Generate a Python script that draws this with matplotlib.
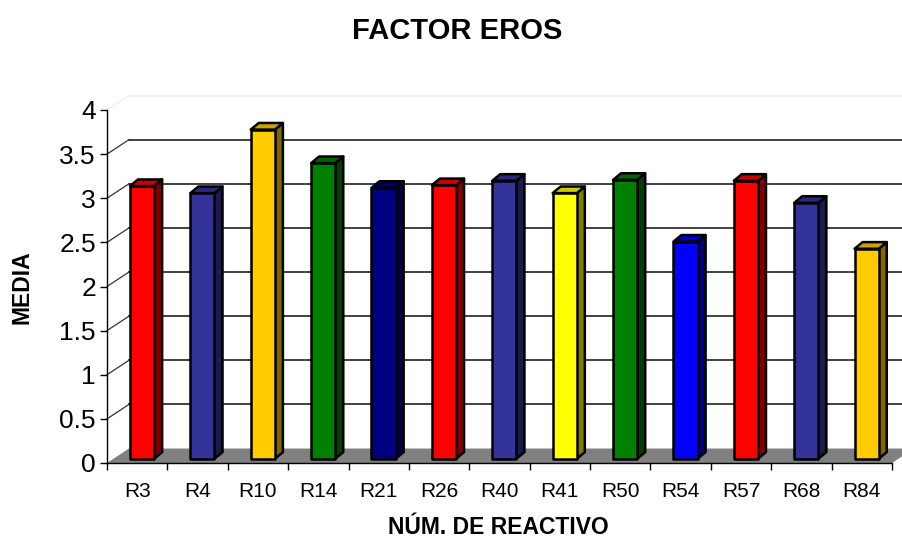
import numpy as np
import matplotlib.pyplot as plt
from matplotlib.patches import Polygon
from matplotlib.colors import to_rgb

plt.rcParams['font.family'] = ['Liberation Sans', 'DejaVu Sans']

reactivos = ['R3', 'R4', 'R10', 'R14', 'R21', 'R26', 'R40', 'R41', 'R50', 'R54', 'R57', 'R68', 'R84']
medias = [3.09, 3.01, 3.73, 3.35, 3.07, 3.10, 3.15, 3.01, 3.16, 2.46, 3.15, 2.90, 2.38]
colores = ['#FF0000', '#333399', '#FFCC00', '#008000', '#000080', '#FF0000', '#333399',
           '#FFFF00', '#008000', '#0000FF', '#FF0000', '#333399', '#FFCC00']
y_ticks = [0, 0.5, 1, 1.5, 2, 2.5, 3, 3.5, 4]

# depth of the pseudo-3D box, in data units
DX, DY = 0.364, 0.164
# bar placement inside each category slot
BAR_L, BAR_W = 0.38, 0.40
BAR_FY = 0.048
BAR_DX, BAR_DY = 0.133, 0.075


def shade(c, f):
    r, g, b = to_rgb(c)
    return (r * f, g * f, b * f)


fig = plt.figure(figsize=(9.02, 5.41), dpi=100)
ax = fig.add_axes([107 / 902, 78 / 541, 785 / 902, 353 / 541])
ax.set_xlim(0, len(reactivos))
ax.set_ylim(0, 4)

# back wall and side wall gridlines
n = len(reactivos)
for v in y_ticks[1:]:
    col = '#eeeeee' if v == 4 else '#333333'
    ax.plot([DX, n + DX], [v + DY, v + DY], color=col, lw=1.3, clip_on=False, zorder=1)
    ax.plot([0, DX], [v, v + DY], color=col, lw=0.9, clip_on=False, zorder=1)

# floor
floor = Polygon([(0, 0), (n, 0), (n + DX, DY), (DX, DY)], closed=True,
                facecolor='#808080', edgecolor='none', clip_on=False, zorder=2)
ax.add_patch(floor)

# bars
for i, (v, c) in enumerate(zip(medias, colores)):
    l = i + BAR_L
    r = l + BAR_W
    b = BAR_FY
    t = BAR_FY + v
    side = Polygon([(r, b), (r + BAR_DX, b + BAR_DY), (r + BAR_DX, t + BAR_DY), (r, t)],
                   facecolor=shade(c, 0.5), edgecolor='black', lw=1.8, joinstyle='round',
                   clip_on=False, zorder=3)
    top = Polygon([(l, t), (l + BAR_DX, t + BAR_DY), (r + BAR_DX, t + BAR_DY), (r, t)],
                  facecolor=shade(c, 0.8), edgecolor='black', lw=1.8, joinstyle='round',
                  clip_on=False, zorder=3)
    front = Polygon([(l, b), (r, b), (r, t), (l, t)],
                    facecolor=c, edgecolor='black', lw=1.8, joinstyle='round',
                    clip_on=False, zorder=4)
    for p in (side, top, front):
        ax.add_patch(p)

# axes
for s in ['top', 'right']:
    ax.spines[s].set_visible(False)
ax.spines['left'].set_color('black')
ax.spines['bottom'].set_color('black')
ax.spines['left'].set_linewidth(1.0)
ax.spines['bottom'].set_linewidth(1.0)
ax.set_facecolor('none')

ax.set_yticks(y_ticks)
ax.set_yticklabels([('%g' % v) for v in y_ticks], fontsize=19)
ax.tick_params(axis='y', direction='out', length=5, width=1.0, pad=3)

ax.set_xticks(np.arange(n + 1))
ax.set_xticklabels([])
ax.tick_params(axis='x', which='major', direction='out', length=5, width=1.0)
ax.set_xticks(np.arange(n) + 0.5, minor=True)
ax.set_xticklabels(reactivos, minor=True, fontsize=15)
ax.tick_params(axis='x', which='minor', length=0, pad=14)

fig.text(457 / 902, 1 - 31 / 541, 'FACTOR EROS', fontsize=21, fontweight='bold',
         ha='center', va='center')
fig.text(22 / 902, 1 - 287 / 541, 'MEDIA', fontsize=16.5, fontweight='bold',
         rotation=90, ha='center', va='center')
fig.text(498 / 902, 1 - 528 / 541, 'NÚM. DE REACTIVO', fontsize=16.5, fontweight='bold',
         ha='center', va='center')

fig.savefig('out.png', dpi=100)
